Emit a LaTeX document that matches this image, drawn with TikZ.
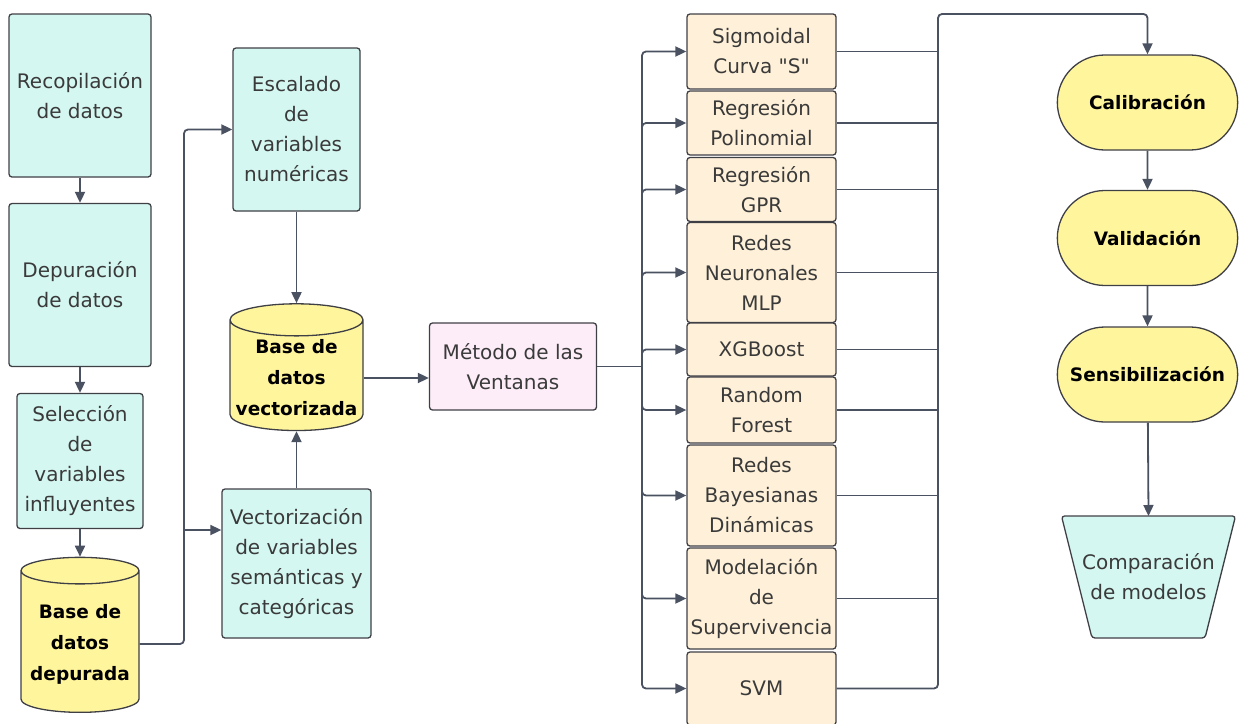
\documentclass[tikz,border=0pt]{standalone}
\usepackage{fontspec}
\setmainfont{DejaVu Sans}
\newfontfamily\plainsans{DejaVu Sans}
\usetikzlibrary{shapes.geometric, shapes.misc, arrows.meta, positioning}
\definecolor{mint}{HTML}{D5F7F1}
\definecolor{lemon}{HTML}{FFF59D}
\definecolor{cream}{HTML}{FFF1D9}
\definecolor{blush}{HTML}{FDEDF8}
\definecolor{edge}{HTML}{3F3F46}
\definecolor{wire}{HTML}{4A5160}
\definecolor{ink}{HTML}{3A3A3A}
\tikzset{
	block/.style={draw=edge, line width=1.3pt, rounded corners=3pt, align=center, text=ink, font=\fontsize{20}{30}\selectfont},
	procbox/.style={block, fill=mint},
	modelbox/.style={block, fill=cream, minimum width=149pt, inner ysep=2pt},
	dbase/.style={draw=edge, line width=1.3pt, cylinder, shape border rotate=90, aspect=0.25, cylinder uses custom fill, cylinder body fill=lemon, cylinder end fill=lemon, align=center, text=black, font=\fontsize{18.5}{31}\selectfont\bfseries},
	stage/.style={draw=edge, line width=1.3pt, rounded rectangle, fill=lemon, minimum width=187pt, minimum height=95pt, text=black, font=\fontsize{18.5}{30}\selectfont\bfseries},
	funnel/.style={draw=edge, line width=1.3pt, rounded corners=3pt, fill=mint},
	flow/.style={draw=wire, line width=1.8pt, -{Triangle[length=11pt, width=10pt]}, rounded corners=4pt},
	link/.style={draw=wire, line width=1.2pt}
}
\begin{document}
\begin{tikzpicture}[x=1pt, y=-1pt]
	\useasboundingbox (0,0) rectangle (1241,723);

	\node[procbox, minimum width=142pt, minimum height=163pt] (recop) at (80,95.5) {Recopilación\\de datos};
	\node[procbox, minimum width=142pt, minimum height=163pt] (depur) at (80,285) {Depuración\\de datos};
	\node[procbox, minimum width=126pt, minimum height=135pt] (selec) at (80,461) {Selección\\de\\variables\\influyentes};
	\node[dbase, minimum width=118pt, minimum height=155pt] (bdep) at (80,644) {Base de\\datos\\depurada};
	\node[procbox, minimum width=127pt, minimum height=163pt] (escal) at (296.5,129.5) {Escalado\\de\\variables\\numéricas};
	\node[dbase, minimum width=133pt, minimum height=125pt] (bvec) at (296.5,378) {Base de\\datos\\vectorizada};
	\node[procbox, minimum width=149pt, minimum height=149pt] (vect) at (296.5,563.5) {Vectorización\\de variables\\semánticas y\\categóricas};
	\node[block, fill=blush, minimum width=167pt, minimum height=87pt] (metodo) at (513,366.5) {Método de las\\Ventanas};

	\node[modelbox, minimum height=75pt] (sigm) at (761.5,51.5) {Sigmoidal\\Curva {\plainsans"S"}};
	\node[modelbox, minimum height=64pt] (poli) at (761.5,123) {Regresión\\Polinomial};
	\node[modelbox, minimum height=64pt] (gpr) at (761.5,189.5) {Regresión\\GPR};
	\node[modelbox, minimum height=100pt] (mlp) at (761.5,272.5) {Redes\\Neuronales\\MLP};
	\node[modelbox, minimum height=53pt] (xgb) at (761.5,349.5) {XGBoost};
	\node[modelbox, minimum height=66pt] (rf) at (761.5,410) {Random\\Forest};
	\node[modelbox, minimum height=101pt] (bayes) at (761.5,495.5) {Redes\\Bayesianas\\Dinámicas};
	\node[modelbox, minimum height=101pt] (surv) at (761.5,598.5) {Modelación\\de\\Supervivencia};
	\node[modelbox, minimum height=73pt] (svm) at (761.5,688.5) {SVM};

	\node[stage] (calib) at (1147.5,102.5) {Calibración};
	\node[stage] (valid) at (1147.5,238) {Validación};
	\node[stage] (sens) at (1147.5,374.5) {Sensibilización};
	\draw[funnel] (1061.5,516) -- (1235.5,516) -- (1205,638) -- (1092,638) -- cycle;
	\node[align=center, text=ink, font=\fontsize{20}{30}\selectfont] (comp) at (1148.5,577) {Comparación\\de modelos};
	\coordinate (comptop) at (1148.5,516);

	\draw[flow] (recop) -- (depur);
	\draw[flow] (depur) -- (selec);
	\draw[flow] (selec) -- (bdep);
	\coordinate (split) at (184,530);
	\draw[flow] (bdep.east) -| (split) |- (escal.west);
	\draw[flow] (split) -- (split -| vect.west);
	\draw[flow] (escal) -- (bvec);
	\draw[flow] (vect) -- (bvec);
	\draw[flow] (bvec.east) -- (bvec.east -| metodo.west);

	\coordinate (fan) at (642,366.5);
	\draw[link, line width=1.8pt] (metodo) -- (fan);
	\foreach \m in {sigm,poli,gpr,mlp,xgb,rf,bayes,surv,svm}
		\draw[flow] (fan) |- (\m.west);

	\coordinate (merge) at (938,14);
	\foreach \m in {sigm,poli,gpr,mlp,xgb,rf,bayes,surv}
		\draw[link] (\m.east) -- (\m.east -| merge);
	\draw[flow] (svm.east) -| (merge) -| (calib.north);

	\draw[flow] (calib) -- (valid);
	\draw[flow] (valid) -- (sens);
	\draw[flow] (sens) -- (comptop);
\end{tikzpicture}
\end{document}
